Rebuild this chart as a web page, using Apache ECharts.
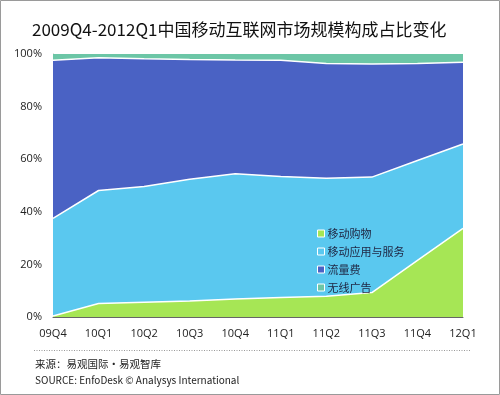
<!DOCTYPE html>
<html>
<head>
<meta charset="utf-8">
<script src="https://cdn.jsdelivr.net/npm/echarts@6/dist/echarts.min.js"></script>
<style>
html,body{margin:0;padding:0;background:#fff;}
#c{width:500px;height:395px;}
</style>
</head>
<body>
<div id="c"></div>
<script>
var categories = ['09Q4','10Q1','10Q2','10Q3','10Q4','11Q1','11Q2','11Q3','11Q4','12Q1'];
var shopping = [0.4, 5.1, 5.6, 6.1, 6.8, 7.4, 7.9, 9.3, 21.5, 33.7];
var appsServices = [37.1, 43.0, 44.0, 46.3, 47.7, 46.0, 44.9, 43.9, 38.0, 32.1];
var traffic = [60.1, 50.5, 48.6, 45.5, 43.2, 44.2, 43.6, 43.0, 36.9, 31.1];
var wirelessAds = [2.4, 1.4, 1.8, 2.1, 2.3, 2.4, 3.6, 3.8, 3.6, 3.1];
var seriesNames = ['移动购物','移动应用与服务','流量费','无线广告'];
var yTicks = [0, 20, 40, 60, 80, 100];

var colors = ['#a6e655','#5ac8ef','#4a62c4','#6cc6a6'];
var dataSets = [shopping, appsServices, traffic, wirelessAds];
var cjk = '"Noto Sans CJK SC","Noto Sans",sans-serif';

var chart = echarts.init(document.getElementById('c'), null, {renderer:'canvas'});
var series = dataSets.map(function(d, i){
  return {
    name: seriesNames[i],
    type: 'line',
    stack: 'total',
    data: d,
    showSymbol: false,
    symbol: 'none',
    lineStyle: {color: '#ffffff', width: i === 3 ? 0 : 1.5},
    itemStyle: {color: colors[i]},
    areaStyle: {color: colors[i], opacity: 1},
    z: 2
  };
});

chart.setOption({
  animation: false,
  backgroundColor: '#fff',
  color: colors,
  title: {
    text: '2009Q4-2012Q1中国移动互联网市场规模构成占比变化',
    left: 27, top: 16,
    textStyle: {fontFamily: cjk, fontSize: 17, fontWeight: 'normal', color: '#111'}
  },
  grid: {left: 53, right: 37, top: 54, bottom: 78},
  legend: {
    orient: 'vertical',
    left: 317, top: 228,
    z: 50,
    padding: 0,
    itemWidth: 7, itemHeight: 7, itemGap: 7,
    icon: 'rect',
    data: seriesNames,
    itemStyle: {borderColor: '#fff', borderWidth: 1},
    textStyle: {fontFamily: cjk, fontSize: 11, color: '#1e2440', lineHeight: 11, padding: [0, 0, 0, -2]}
  },
  xAxis: {
    type: 'category',
    data: categories,
    boundaryGap: false,
    axisLine: {show: true, lineStyle: {color: '#666', width: 1}},
    axisTick: {show: false},
    axisLabel: {fontFamily: '"Open Sans","DejaVu Sans",sans-serif', fontSize: 11, color: '#222', margin: 11},
    splitLine: {show: false}
  },
  yAxis: {
    type: 'value',
    min: 0, max: 100, interval: 20,
    axisLine: {show: true, lineStyle: {color: '#bbb', width: 1}},
    axisTick: {show: false},
    splitLine: {show: false},
    axisLabel: {
      fontFamily: '"Open Sans","DejaVu Sans",sans-serif', fontSize: 11, color: '#222', margin: 11,
      formatter: function(v){ return yTicks.indexOf(v) >= 0 ? v + '%' : ''; }
    }
  },
  graphic: [
    {type: 'rect', shape: {x: 0.5, y: 0.5, width: 499, height: 394}, style: {fill: 'none', stroke: '#9a9a9a', lineWidth: 1}, silent: true},
    {type: 'line', shape: {x1: 34, y1: 350.5, x2: 470, y2: 350.5}, style: {stroke: '#999', lineWidth: 1, lineDash: [1, 1.5]}, silent: true},
    {type: 'text', left: 35, top: 359, style: {text: '来源：易观国际·易观智库', font: '10.5px ' + cjk, fill: '#222'}},
    {type: 'text', left: 35, top: 375, style: {text: 'SOURCE: EnfoDesk © Analysys International', font: '10px ' + cjk, fill: '#222'}}
  ],
  series: series
});
</script>
</body>
</html>
